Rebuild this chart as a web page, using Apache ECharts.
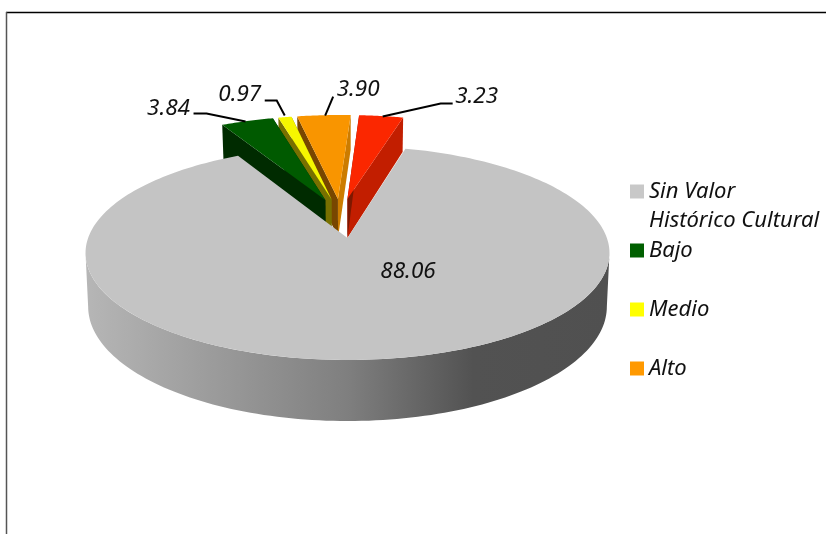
<!DOCTYPE html>
<html>
<head>
<meta charset="utf-8">
<style>
  html, body { margin: 0; padding: 0; background: #fff; }
  #chart { width: 826px; height: 534px; }
</style>
<script src="https://cdn.jsdelivr.net/npm/echarts@6/dist/echarts.min.js"></script>
</head>
<body>
<div id="chart"></div>
<script>
// valores de la torta, en el orden en que se reparten los ángulos
var categories = ['Sin Valor Histórico Cultural', 'Bajo', 'Medio', 'Alto', 'Muy Alto'];
var values = [88.06, 3.84, 0.97, 3.90, 3.23];
var valueLabels = ['88.06', '3.84', '0.97', '3.90', '3.23'];
var legendNames = ['Sin Valor Histórico Cultural', 'Bajo', 'Medio', 'Alto'];

// colores: cara superior, pared izquierda, pared derecha
var topColors = ['#c4c4c4', '#005a00', '#f6f600', '#f99500', '#fb2700'];
var leftWalls = ['#8a8a8a', '#002b00', '#787000', '#784600', '#7d1800'];
var rightWalls = ['#8a8a8a', '#002b00', '#787000', '#cc7c00', '#c21e00'];
var legendColors = ['#c8c8c8', '#005f00', '#ffff00', '#ff9900', '#ff2a00'];
var FONT = '"Noto Sans", sans-serif';

// proyección en perspectiva del disco
var CX = 347.5, Y0 = 238, K = 0.14, A = 259.4, B = 104.9, H = 52.5, SLICE_H = 41;
var START = -28.3;
var EXPLODE = 0.173, ORIGIN_U = -0.027, ORIGIN_V = 0.22, SLICE_R = 1.01, LABEL_R = 0.99;

// etiqueta y línea guía, relativas al punto medio del borde de cada sector
var labelLayout = [
  null,
  { text: [-80, -14], line: [[-55, -9], [-42, -9], [-3, -1]] },
  { text: [-46, -24], line: [[-21, -18], [-9, -18], [-1, -3]] },
  { text: [34, -27], line: [[9, -20], [1, -1]] },
  { text: [96, -21], line: [[72, -14], [60, -14], [2, -1]] }
];

function project(u, v, h) {
  var w = 1 + K * v;
  return [CX + A * u * (h ? 0.99 : 1) / w, Y0 - B * v / w + (h || 0) / w];
}

function rad(d) { return d * Math.PI / 180; }

function sliceAngles() {
  var total = values.reduce(function (a, b) { return a + b; }, 0);
  var cur = START;
  var out = [];
  // el primer valor (gris) va después de los sectores pequeños
  for (var i = 1; i < values.length; i++) {
    var span = values[i] / total * 360;
    out[i] = [cur, cur + span];
    cur += span;
  }
  out[0] = [cur, START + 360];
  return out;
}
var angles = sliceAngles();

function arc(a0, a1, r, ou, ov, h, steps) {
  var pts = [];
  for (var i = 0; i <= steps; i++) {
    var t = rad(a0 + (a1 - a0) * i / steps);
    pts.push(project(ou + r * Math.sin(t), ov + r * Math.cos(t), h));
  }
  return pts;
}

function poly(points, fill) {
  return { type: 'polygon', shape: { points: points }, style: { fill: fill } };
}

function labelText(text, x, y) {
  return {
    type: 'text',
    style: {
      text: text, x: x, y: y, fill: '#111',
      font: 'italic 22.5px ' + FONT,
      textAlign: 'center', textVerticalAlign: 'middle'
    }
  };
}

function renderGrey(params, api) {
  var a = angles[0];
  var edge = Math.acos(-K) * 180 / Math.PI;
  var wallTop = arc(edge, 360 - edge, 1, 0, 0, 0, 120);
  var wallBottom = arc(360 - edge, edge, 1, 0, 0, H, 120);
  return {
    type: 'group',
    children: [
      {
        type: 'polygon',
        shape: { points: wallTop.concat(wallBottom) },
        style: {
          fill: {
            type: 'linear', x: 0, y: 0, x2: 1, y2: 0,
            colorStops: [
              { offset: 0, color: '#b6b6b6' },
              { offset: 0.5, color: '#7f7f7f' },
              { offset: 0.74, color: '#525252' },
              { offset: 1, color: '#505050' }
            ]
          }
        }
      },
      poly([project(0, 0, 0)].concat(arc(a[0], a[1], 1, 0, 0, 0, 240)), topColors[0]),
      labelText(valueLabels[0], CX + 60.5, Y0 + 34)
    ]
  };
}

function renderSlice(i) {
  return function (params, api) {
    var a = angles[i];
    var midDeg = (a[0] + a[1]) / 2;
    var mid = rad(midDeg);
    var ou = ORIGIN_U + EXPLODE * Math.sin(mid);
    var ov = ORIGIN_V + EXPLODE * Math.cos(mid);
    var apex = project(ou, ov, 0), apexLow = project(ou, ov, SLICE_H);
    var top = arc(a[0], a[1], SLICE_R, ou, ov, 0, 24);
    var low = arc(a[0], a[1], SLICE_R, ou, ov, SLICE_H, 24);
    var m = arc(midDeg, midDeg, LABEL_R, ou, ov, 0, 1)[0];
    var lay = labelLayout[i];
    return {
      type: 'group',
      children: [
        poly([apex, top[top.length - 1], low[low.length - 1], apexLow], rightWalls[i]),
        poly([apex, top[0], low[0], apexLow], leftWalls[i]),
        poly([apex].concat(top), topColors[i]),
        {
          type: 'polyline',
          shape: { points: lay.line.map(function (p) { return [m[0] + p[0], m[1] + p[1]]; }) },
          style: { stroke: '#000', lineWidth: 2, fill: null }
        },
        labelText(valueLabels[i], m[0] + lay.text[0], m[1] + lay.text[1])
      ]
    };
  };
}

// pintado de atrás hacia adelante: rojo, naranja, amarillo, verde y el gris encima
var drawZ = [10, 8, 7, 6, 5];
var series = categories.map(function (name, i) {
  return {
    type: 'custom',
    name: name,
    coordinateSystem: 'none',
    z: drawZ[i],
    silent: true,
    animation: false,
    itemStyle: { color: legendColors[i] },
    data: [values[i]],
    renderItem: i === 0 ? renderGrey : renderSlice(i)
  };
});

var legendTops = [148, 236, 295, 354];
var legends = legendNames.map(function (name, i) {
  return {
    left: 630,
    top: legendTops[i],
    orient: 'vertical',
    padding: 0,
    icon: 'rect',
    itemWidth: 14,
    itemHeight: 14,
    itemGap: 0,
    selectedMode: false,
    data: [name],
    formatter: function (n) {
      // la muestra queda alineada con la primera línea
      return i === 0 ? '\u00a0\nSin Valor\nHistórico Cultural' : n;
    },
    textStyle: {
      color: '#111', fontFamily: FONT, fontStyle: 'italic',
      fontSize: 22, lineHeight: 29, padding: [0, 0, 0, 0]
    }
  };
});

var chart = echarts.init(document.getElementById('chart'), null, { renderer: 'canvas' });
chart.setOption({
  backgroundColor: '#ffffff',
  animation: false,
  legend: legends,
  series: series,
  graphic: [
    { type: 'line', shape: { x1: 6, y1: 12.5, x2: 826, y2: 12.5 }, style: { stroke: '#000', lineWidth: 1.5 } },
    { type: 'line', shape: { x1: 6.5, y1: 12, x2: 6.5, y2: 534 }, style: { stroke: '#555', lineWidth: 1.5 } }
  ]
});
</script>
</body>
</html>
